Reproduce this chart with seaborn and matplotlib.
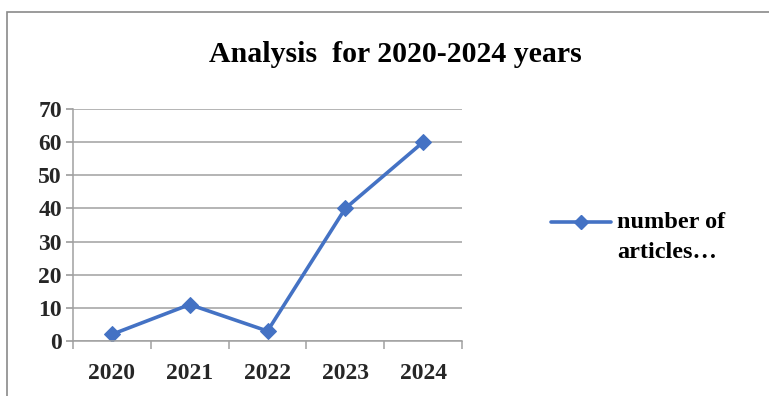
import matplotlib
matplotlib.use("Agg")
import matplotlib.pyplot as plt
from matplotlib.patches import Rectangle
from matplotlib.lines import Line2D
import numpy as np
import pandas as pd
import seaborn as sns

years = ["2020", "2021", "2022", "2023", "2024"]
articles = [2, 11, 3, 40, 60]
series_label = ["number of", "articles…"]
title = "Analysis  for 2020-2024 years"

sns.set_theme(style="white")
plt.rcParams["font.family"] = ["Liberation Serif", "DejaVu Serif"]
plt.rcParams["font.weight"] = "bold"

blue = "#4472C4"
grid_gray = "#A0A0A0"
W, H = 769, 396

fig = plt.figure(figsize=(W / 100, H / 100), dpi=100)
ax = fig.add_axes([73 / W, 1 - 341 / H, (462 - 73) / W, (341 - 109) / H])

df = pd.DataFrame({"year": years, "articles": articles})
sns.lineplot(data=df, x="year", y="articles", ax=ax, color=blue, linewidth=2.6,
             marker="D", markersize=8, markeredgecolor=blue, sort=False)

ax.set_xlim(-0.5, len(years) - 0.5)
ax.set_ylim(0, 70)
ax.set_yticks(np.arange(0, 71, 10))
ax.set_xticks(range(len(years)))
ax.set_xticklabels(years)
ax.set_xticks(np.arange(-0.5, len(years), 1.0), minor=True)
ax.set_xlabel("")
ax.set_ylabel("")

ax.yaxis.grid(True, color=grid_gray, linewidth=1.1)
ax.xaxis.grid(False)
for side in ("top", "right"):
    ax.spines[side].set_visible(False)
for side in ("left", "bottom"):
    ax.spines[side].set_color(grid_gray)
    ax.spines[side].set_linewidth(1.1)

ax.tick_params(axis="y", which="major", left=True, length=5, color=grid_gray,
               labelsize=17, pad=3)
ax.tick_params(axis="x", which="major", bottom=False, labelsize=17, pad=10)
ax.tick_params(axis="x", which="minor", bottom=True, length=6, color=grid_gray, width=1.1)
for lbl in ax.get_xticklabels() + ax.get_yticklabels():
    lbl.set_fontweight("bold")

fig.text(395 / W, 1 - 55 / H, title, ha="center", va="center",
         fontsize=21.5, fontweight="bold", color="black")

# legend: marker line aligned with the first line of the series label
fig.add_artist(Line2D([551 / W, 611 / W], [1 - 222 / H, 1 - 222 / H],
                      transform=fig.transFigure, color=blue, linewidth=2.6,
                      solid_capstyle="round"))
fig.add_artist(Line2D([581 / W], [1 - 222 / H], transform=fig.transFigure,
                      color=blue, marker="D", markersize=7, linestyle="none"))
for i, line in enumerate(series_label):
    fig.text(617 / W, 1 - (223 + 29 * i) / H, line, ha="left", va="center",
             fontsize=17.5, fontweight="bold", color="black")

# chart frame
frame = Rectangle((7 / W, -0.05), 1.2, 1 - 12 / H + 0.05, transform=fig.transFigure,
                  fill=False, edgecolor="#8A8A8A", linewidth=1.2)
fig.patches.append(frame)

fig.savefig("out.png", dpi=100)
